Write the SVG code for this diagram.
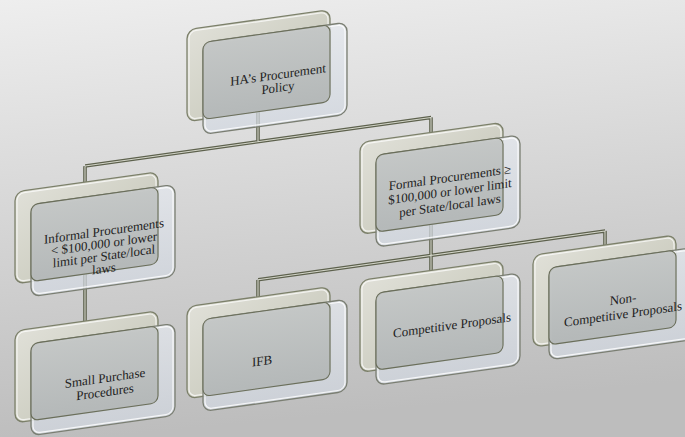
<svg xmlns="http://www.w3.org/2000/svg" width="685" height="437" viewBox="0 0 685 437">
<defs>
<linearGradient id="bg" x1="0" y1="0" x2="0.15" y2="1">
<stop offset="0" stop-color="#eeeeee"/>
<stop offset="1" stop-color="#bdbdbd"/>
</linearGradient>
<linearGradient id="backG" x1="0" y1="0" x2="1" y2="1">
<stop offset="0" stop-color="#e0e0d8"/>
<stop offset="1" stop-color="#c2c3b4"/>
</linearGradient>
<linearGradient id="frontG" x1="0" y1="0" x2="0" y2="1">
<stop offset="0" stop-color="#e4e8ee"/>
<stop offset="1" stop-color="#d2d8e1"/>
</linearGradient>
<linearGradient id="midG" x1="0" y1="0" x2="0" y2="1">
<stop offset="0" stop-color="#c2c5c4"/>
<stop offset="1" stop-color="#b2b6b6"/>
</linearGradient>
<g id="node">
<rect class="back" x="0" y="0" width="143" height="92" rx="9"/>
<rect class="backHi" x="2" y="2" width="139" height="88" rx="7"/>
<rect class="front" x="16" y="15" width="144" height="92" rx="9"/>
<rect class="frontHi" x="18" y="17" width="140" height="88" rx="7"/>
<rect class="mid" x="16" y="15" width="127" height="77" rx="7"/>
</g>
</defs>
<style>
.back{fill:url(#backG);stroke:#7c806a;stroke-width:1.3}
.backHi{fill:none;stroke:#ffffff;stroke-opacity:0.7;stroke-width:1.2}
.front{fill:url(#frontG);fill-opacity:0.72;stroke:#7a7e72;stroke-width:1.3}
.frontHi{fill:none;stroke:#ffffff;stroke-opacity:0.8;stroke-width:1.2}
.mid{fill:url(#midG);fill-opacity:0.93;stroke:#6a6e5a;stroke-width:1.1}
.cd{fill:none;stroke:#5d614d;stroke-width:3.6}
.cl{fill:none;stroke:#d4d6ca;stroke-width:1.1}
text{font-family:"Liberation Serif","DejaVu Serif",serif;font-size:13px;fill:#222222;text-anchor:middle}
</style>
<rect x="0" y="0" width="685" height="437" fill="url(#bg)"/>
<g transform="skewY(-8)">
<g id="connectors">
<path class="cd" d="M258,146 V178 M85,178 H431 M85,178 V196 M431,178 V196 M85,284 V334 M431,283 V316 M258,316 H605 M258,316 V334 M431,316 V333 M605,316 V332"/>
<path class="cl" d="M258,146 V178 M85,178 H431 M85,178 V196 M431,178 V196 M85,284 V334 M431,283 V316 M258,316 H605 M258,316 V334 M431,316 V333 M605,316 V332"/>
</g>
<g id="n-policy">
<use href="#node" x="187" y="56"/>
<text x="278" y="118">HA’s Procurement</text>
<text x="278" y="131">Policy</text>
</g>
<g id="n-informal">
<use href="#node" x="15" y="194"/>
<text x="104" y="250">Informal Procurements</text>
<text x="104" y="262.5">&lt; $100,000 or lower</text>
<text x="104" y="275">limit per State/local</text>
<text x="104" y="287.5">laws</text>
</g>
<g id="n-formal">
<use href="#node" x="360" y="193"/>
<text x="450" y="245">Formal Procurements ≥</text>
<text x="450" y="259">$100,000 or lower limit</text>
<text x="450" y="273">per State/local laws</text>
</g>
<g id="n-small">
<use href="#node" x="15" y="333"/>
<text x="105" y="397">Small Purchase</text>
<text x="105" y="411">Procedures</text>
</g>
<g id="n-ifb">
<use href="#node" x="187" y="333"/>
<text x="262" y="402">IFB</text>
</g>
<g id="n-comp">
<use href="#node" x="360" y="331"/>
<text x="452" y="393">Competitive Proposals</text>
</g>
<g id="n-noncomp">
<use href="#node" x="533" y="330"/>
<text x="623" y="391">Non-</text>
<text x="623" y="406">Competitive Proposals</text>
</g>
</g>
</svg>
